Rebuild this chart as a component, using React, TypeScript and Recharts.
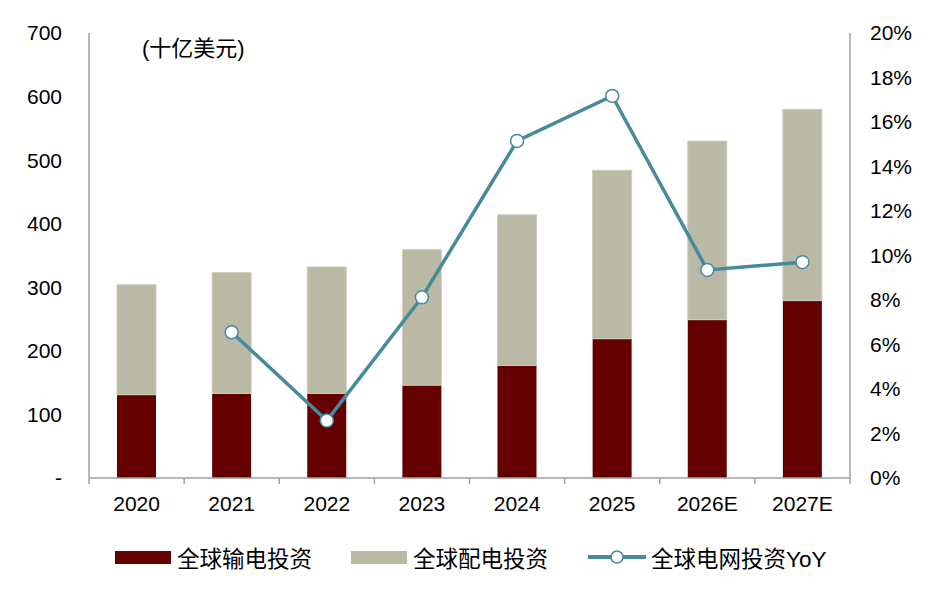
import React from 'react'
import { ComposedChart, Bar, Line, XAxis, YAxis } from 'recharts'

const years = ['2020', '2021', '2022', '2023', '2024', '2025', '2026E', '2027E']
const transmission = [131, 133, 133, 146, 177, 219, 249, 279]
const distribution = [173, 190, 199, 213, 237, 265, 281, 301]
const gridYoY = [null, 6.55, 2.58, 8.12, 15.15, 17.17, 9.35, 9.7]

const leftTicks = [0, 100, 200, 300, 400, 500, 600, 700]
const rightTicks = [0, 2, 4, 6, 8, 10, 12, 14, 16, 18, 20]

const seriesNames = ['全球输电投资', '全球配电投资', '全球电网投资YoY']
const unitLabel = '(十亿美元)'

const RED = '#640000'
const GREY = '#bab9a6'
const TEAL = '#478a9b'
const AXIS = '#a0a0a0'
const FONT = '"Liberation Sans", Arial, "Noto Sans CJK SC", sans-serif'

const chartData = years.map((year, i) => ({
  year,
  trans: transmission[i],
  dist: distribution[i],
  yoy: gridYoY[i],
}))

// category label plus a small tick mark on each category boundary
function YearTick(props: any) {
  const { x, y, payload, index } = props
  const half = payload && payload.offset ? payload.offset : 0
  const last = index === years.length - 1
  return (
    <g>
      <line x1={x - half} y1={y} x2={x - half} y2={y + 6} stroke={AXIS} strokeWidth={1.5} />
      {last && <line x1={x + half} y1={y} x2={x + half} y2={y + 6} stroke={AXIS} strokeWidth={1.5} />}
      <text x={x} y={y + 18} dy="0.71em" textAnchor="middle" fontSize={21} fill="#000" fontFamily={FONT}>
        {payload.value}
      </text>
    </g>
  )
}

export default function App() {
  const tickStyle = { fontSize: 21, fill: '#000', fontFamily: FONT }

  return (
    <div style={{ position: 'absolute', left: 0, top: 0, width: 932, height: 589, fontFamily: FONT, background: '#fff' }}>
      <ComposedChart width={932} height={589} data={chartData} margin={{ top: 33, right: 0, bottom: 71, left: 0 }}>
        <XAxis
          dataKey="year"
          axisLine={{ stroke: AXIS, strokeWidth: 1.5 }}
          tickLine={false}
          tickSize={0}
          tickMargin={0}
          tick={<YearTick />}
          height={40}
          interval={0}
        />
        <YAxis
          yAxisId="left"
          domain={[0, 700]}
          ticks={leftTicks}
          tickFormatter={(v: number) => (v === 0 ? '-' : String(v))}
          axisLine={{ stroke: AXIS, strokeWidth: 1.5 }}
          tickLine={false}
          tickSize={0}
          tickMargin={27}
          tick={tickStyle}
          width={89}
        />
        <YAxis
          yAxisId="right"
          orientation="right"
          domain={[0, 20]}
          ticks={rightTicks}
          tickFormatter={(v: number) => `${v}%`}
          axisLine={{ stroke: AXIS, strokeWidth: 1.5 }}
          tickLine={false}
          tickSize={0}
          tickMargin={20}
          tick={{ ...tickStyle, textAnchor: 'start' }}
          width={82}
        />
        <Bar yAxisId="left" dataKey="trans" stackId="a" fill={RED} barSize={39} isAnimationActive={false} />
        <Bar yAxisId="left" dataKey="dist" stackId="a" fill={GREY} stroke="#cdccbd" strokeWidth={1} barSize={39} isAnimationActive={false} />
        <Line
          yAxisId="right"
          dataKey="yoy"
          stroke={TEAL}
          strokeWidth={3.5}
          dot={{ r: 6.5, fill: '#fff', stroke: TEAL, strokeWidth: 1.5 }}
          activeDot={false}
          isAnimationActive={false}
        />
      </ComposedChart>

      <div style={{ position: 'absolute', left: 142, top: 30, fontSize: 22, color: '#000', whiteSpace: 'nowrap' }}>{unitLabel}</div>

      <div style={{ position: 'absolute', left: 115, top: 543, height: 28, display: 'flex', alignItems: 'center', fontSize: 22.5, color: '#000', whiteSpace: 'nowrap' }}>
        <span style={{ display: 'inline-block', width: 56, height: 13, background: RED, marginRight: 6 }} />
        <span style={{ marginRight: 39 }}>{seriesNames[0]}</span>
        <span style={{ display: 'inline-block', width: 56, height: 13, background: GREY, marginRight: 6 }} />
        <span style={{ marginRight: 40 }}>{seriesNames[1]}</span>
        <svg width={58} height={16} style={{ marginRight: 5 }}>
          <line x1={0} y1={8} x2={58} y2={8} stroke={TEAL} strokeWidth={4} />
          <circle cx={29} cy={8} r={6} fill="#fff" stroke={TEAL} strokeWidth={1.5} />
        </svg>
        <span>{seriesNames[2]}</span>
      </div>
    </div>
  )
}
